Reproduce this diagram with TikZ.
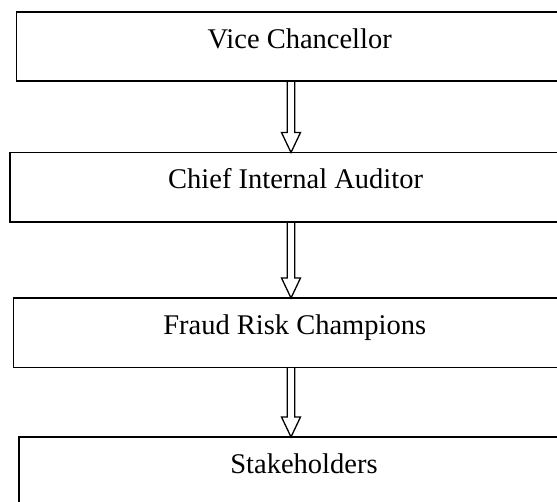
\documentclass[tikz,border=0pt]{standalone}
\usepackage{fontspec}
\setmainfont{Liberation Serif}
\usetikzlibrary{calc}
\begin{document}
\begin{tikzpicture}[x=1pt,y=-1pt,
  box/.style={draw=black, line width=1.8pt, rectangle, anchor=north west,
    inner sep=0pt, outer sep=0pt, minimum height=69.5pt},
  boxtext/.style={anchor=base, inner sep=0pt, font=\fontsize{28.5}{34}\selectfont},
  hollow/.style={draw=black, line width=1.3pt, line join=miter}
]
\newcommand{\blockarrow}[2]{%
  \draw[hollow] let \p1=(#1), \p2=(#2) in
    (\x1-3.8pt,\y1) -- (\x1-3.8pt,\y2+20pt) -- (\x1-9.5pt,\y2+20pt) -- (\x1,\y2)
    -- (\x1+9.5pt,\y2+20pt) -- (\x1+3.8pt,\y2+20pt) -- (\x1+3.8pt,\y1);}
\useasboundingbox (0,0) rectangle (557,502);
\begin{scope}
\clip (0,0) rectangle (557,502);
% the four levels; boxes run on past the right edge
\node[box, minimum width=568pt] (b1) at (16.5,11.8) {};
\node[box, minimum width=574pt] (b2) at (10.2,152.5) {};
\node[box, minimum width=566pt] (b3) at (13.5,298) {};
\node[box, minimum width=572pt] (b4) at (19.2,437) {};

\node[boxtext] (t1) at (299.7,48.3) {Vice Chancellor};
\node[boxtext] (t2) at (295.6,188.3) {Chief Internal Auditor};
\node[boxtext] (t3) at (294.7,335) {Fraud Risk Champions};
\node[boxtext] (t4) at (304,473) {Stakeholders};

% hollow block arrows between the levels
\coordinate (ax) at (291,0);
\blockarrow{b1.south -| ax}{b2.north -| ax}
\blockarrow{b2.south -| ax}{b3.north -| ax}
\blockarrow{b3.south -| ax}{b4.north -| ax}
\end{scope}
\end{tikzpicture}
\end{document}
